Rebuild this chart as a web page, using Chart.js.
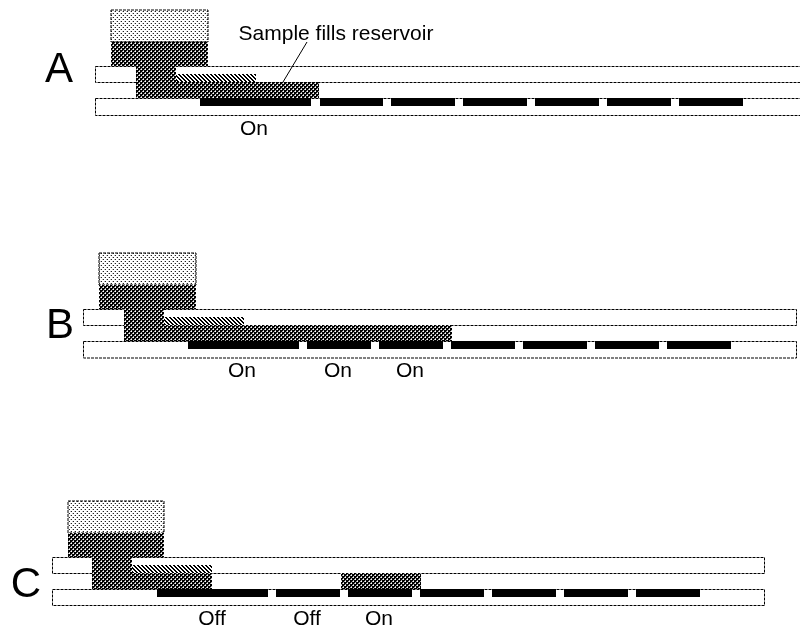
<!DOCTYPE html>
<html>
<head>
<meta charset="utf-8">
<script src="https://cdn.jsdelivr.net/npm/chart.js@4"></script>
<style>
  html, body { margin: 0; padding: 0; background: #fff; }
  #wrap { width: 800px; height: 634px; }
</style>
</head>
<body>
<div id="wrap"><canvas id="chart" width="800" height="634"></canvas></div>
<script>
// rectangles are [x0, y0, x1, y1] in picture units
const upperPlates = [[95.5, 66.5, 806, 82.5], [83.5, 309.5, 796.5, 325.5], [52.5, 557.5, 764.5, 573.5]]
const lowerPlates = [[95.5, 98.5, 806, 115.5], [83.5, 341.5, 796.5, 358], [52.5, 589.5, 764.5, 605.5]]
const reservoirsEmpty = [[111, 10, 208, 42], [99, 253, 196, 285], [68, 501, 164, 533]]
const reservoirsFull = [[111, 42, 208, 66], [99, 285, 196, 309], [68, 533, 164, 557]]
const channels = [[136, 66, 176, 98], [124, 309, 164, 341], [92, 557, 132, 589]]
const samples = [[176, 82, 319, 98], [164, 325, 452, 341], [132, 573, 212, 589], [341, 573, 421, 589]]
const wedges = [[176, 74, 256, 82], [164, 317, 244, 325], [132, 565, 212, 573]]
const electrodes = [
  [200, 98, 311, 106], [320, 98, 383, 106], [391, 98, 455, 106], [463, 98, 527, 106],
  [535, 98, 599, 106], [607, 98, 671, 106], [679, 98, 743, 106],
  [188, 341, 299, 349], [307, 341, 371, 349], [379, 341, 443, 349], [451, 341, 515, 349],
  [523, 341, 587, 349], [595, 341, 659, 349], [667, 341, 731, 349],
  [157, 589, 268, 597], [276, 589, 340, 597], [348, 589, 412, 597], [420, 589, 484, 597],
  [492, 589, 556, 597], [564, 589, 628, 597], [636, 589, 700, 597],
]
const leaderLine = [{ x: 283, y: 82 }, { x: 307, y: 42 }]

const panelLetters = [['A', 59, 82], ['B', 60, 338], ['C', 26, 597]]
const captions = [
  ['Sample fills reservoir', 336, 40],
  ['On', 254, 135],
  ['On', 242, 377], ['On', 338, 377], ['On', 410, 377],
  ['Off', 212, 625], ['Off', 307, 625], ['On', 379, 625],
]

function makePattern(size, draw) {
  const tile = document.createElement('canvas')
  tile.width = size
  tile.height = size
  const c = tile.getContext('2d')
  c.fillStyle = '#fff'
  c.fillRect(0, 0, size, size)
  draw(c)
  return document.getElementById('chart').getContext('2d').createPattern(tile, 'repeat')
}

const darkFill = makePattern(4, c => {
  c.fillStyle = '#000'
  c.fillRect(0, 0, 4, 4)
  c.fillStyle = '#fff'
  c.fillRect(1, 1, 1, 1)
  c.fillRect(3, 3, 1, 1)
  c.fillStyle = '#aaa'
  c.fillRect(0, 1, 1, 1)
  c.fillRect(2, 3, 1, 1)
  c.fillRect(1, 0, 1, 1)
  c.fillRect(3, 2, 1, 1)
})
const lightFill = makePattern(4, c => {
  c.fillStyle = '#222'
  c.fillRect(1, 1, 1, 1)
  c.fillRect(3, 3, 1, 1)
  c.fillStyle = '#bbb'
  c.fillRect(0, 1, 1, 1)
  c.fillRect(2, 3, 1, 1)
})
const hatchFill = makePattern(4, c => {
  c.fillStyle = '#000'
  for (let i = 0; i < 4; i++) {
    c.fillRect(i, i, 1, 1)
    c.fillRect((i + 1) % 4, i, 1, 1)
  }
})

function box(r, fill, border) {
  const [x0, y0, x1, y1] = r
  return {
    data: [{ x: x0, y: y0 }, { x: x1, y: y0 }, { x: x1, y: y1 }, { x: x0, y: y1 }, { x: x0, y: y0 }],
    fill: 'shape',
    backgroundColor: fill,
    borderColor: border || 'transparent',
    borderWidth: border ? 1 : 0,
    borderDash: border ? [3, 1] : [],
    pointRadius: 0,
    tension: 0,
  }
}

const drawn = [
  ...upperPlates.map(r => box(r, '#fff', '#000')),
  ...lowerPlates.map(r => box(r, '#fff', '#000')),
  ...reservoirsEmpty.map(r => box(r, lightFill, '#000')),
  ...reservoirsFull.map(r => box(r, darkFill)),
  ...channels.map(r => box(r, darkFill)),
  ...samples.map(r => box(r, darkFill)),
  ...wedges.map(r => box(r, hatchFill)),
  ...electrodes.map(r => box(r, '#000')),
  { data: leaderLine, borderColor: '#000', borderWidth: 1, pointRadius: 0, fill: false },
]

const textPlugin = {
  id: 'diagramText',
  afterDatasetsDraw(chart) {
    const { ctx, scales } = chart
    ctx.save()
    ctx.fillStyle = '#000'
    ctx.textAlign = 'center'
    ctx.textBaseline = 'alphabetic'
    ctx.font = '21px "Liberation Sans"'
    captions.forEach(([t, x, y]) => ctx.fillText(t, scales.x.getPixelForValue(x), scales.y.getPixelForValue(y)))
    ctx.font = '42px "Liberation Sans"'
    panelLetters.forEach(([t, x, y]) => ctx.fillText(t, scales.x.getPixelForValue(x), scales.y.getPixelForValue(y)))
    ctx.restore()
  },
}

new Chart(document.getElementById('chart'), {
  type: 'line',
  data: { datasets: drawn.reverse() },
  plugins: [textPlugin],
  options: {
    responsive: false,
    animation: false,
    devicePixelRatio: 1,
    events: [],
    layout: { padding: 0 },
    plugins: { legend: { display: false }, tooltip: { enabled: false } },
    scales: {
      x: { type: 'linear', display: false, min: 0, max: 800 },
      y: { type: 'linear', display: false, min: 0, max: 634, reverse: true },
    },
  },
})
</script>
</body>
</html>
